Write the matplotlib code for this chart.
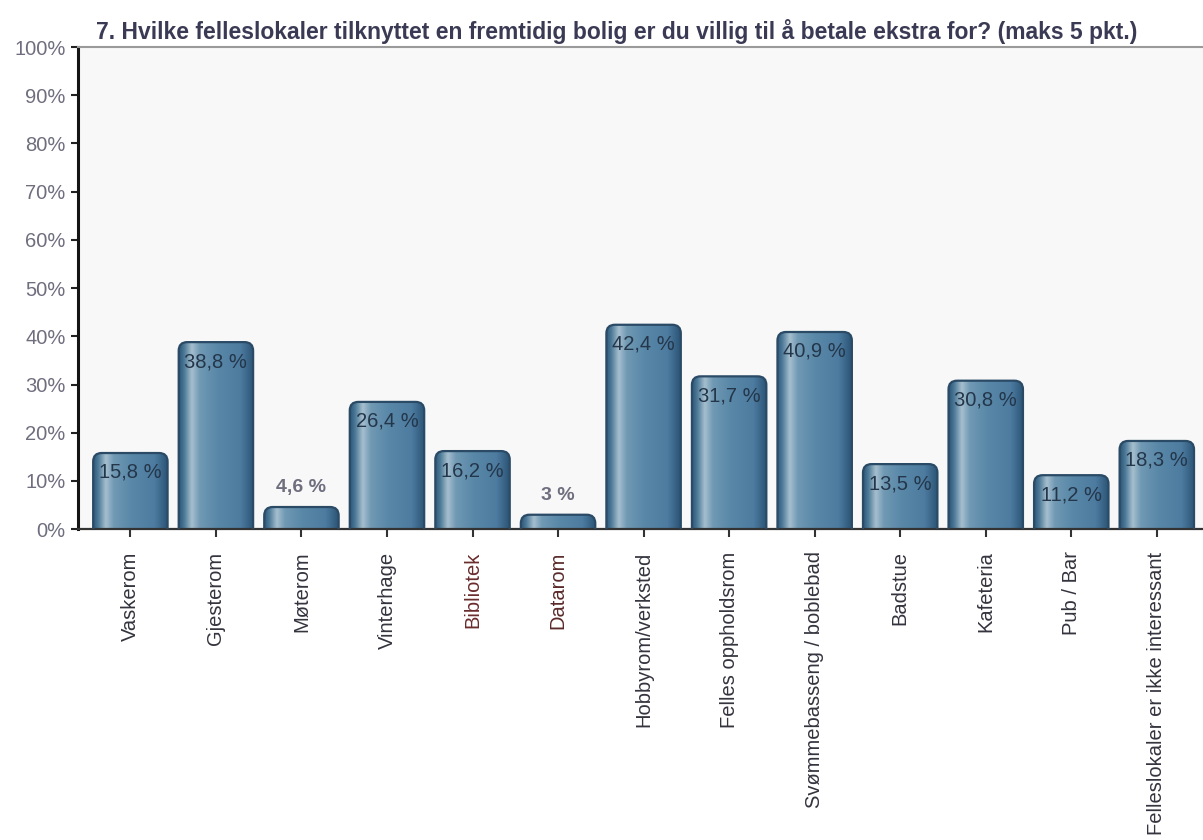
import numpy as np
import matplotlib
matplotlib.use("Agg")
import matplotlib.pyplot as plt
from matplotlib.colors import LinearSegmentedColormap
from matplotlib.patches import FancyBboxPatch
from matplotlib.ticker import PercentFormatter

plt.rcParams["font.family"] = ["Liberation Sans", "DejaVu Sans"]

title = ("7. Hvilke felleslokaler tilknyttet en fremtidig bolig er du villig "
         "til å betale ekstra for? (maks 5 pkt.)")
categories = ["Vaskerom", "Gjesterom", "Møterom", "Vinterhage", "Bibliotek",
              "Datarom", "Hobbyrom/verksted", "Felles oppholdsrom",
              "Svømmebasseng / boblebad", "Badstue", "Kafeteria", "Pub / Bar",
              "Felleslokaler er ikke interessant"]
values = [15.8, 38.8, 4.6, 26.4, 16.2, 3.0, 42.4, 31.7, 40.9, 13.5, 30.8, 11.2, 18.3]
value_labels = ["15,8 %", "38,8 %", "4,6 %", "26,4 %", "16,2 %", "3 %", "42,4 %",
                "31,7 %", "40,9 %", "13,5 %", "30,8 %", "11,2 %", "18,3 %"]
label_colors = ["#34343f"] * 4 + ["#6a2c2c", "#5a2a2a"] + ["#34343f"] * 7

fig = plt.figure(figsize=(12.03, 8.4), dpi=100)
ax = fig.add_axes([0.065, 0.370, 0.935, 0.574])
ax.set_facecolor("#f7f8f7")

x = np.arange(len(categories))
bars = ax.bar(x, values, width=0.87, color="none", edgecolor="none")

# cylinder-like shading across each bar
shade = LinearSegmentedColormap.from_list("shade", [
    (0.00, "#2d5677"), (0.07, "#4d7a98"), (0.17, "#a6bfce"), (0.28, "#7099b4"),
    (0.50, "#5a88a8"), (0.82, "#4d7ca0"), (1.00, "#2b5475")])
grad = np.linspace(0, 1, 256).reshape(1, -1)

for rect in bars:
    bx, bw, bh = rect.get_x(), rect.get_width(), rect.get_height()
    # start a little below the axis so only the top corners show rounded
    outline = FancyBboxPatch((bx, rect.get_y() - 3), bw, bh + 3,
                             boxstyle="round,pad=0,rounding_size=0.1",
                             mutation_aspect=17.8, facecolor="none",
                             edgecolor="#2a4a66", linewidth=1.6, zorder=3)
    ax.add_patch(outline)
    im = ax.imshow(grad, cmap=shade, aspect="auto",
                   extent=(bx, bx + bw, rect.get_y() - 3, bh),
                   zorder=2, interpolation="bicubic")
    im.set_clip_path(outline)

for xi, v, lab in zip(x, values, value_labels):
    if v < 10:
        ax.annotate(lab, (xi, v), xytext=(0, 14), textcoords="offset points",
                    ha="center", va="center", fontsize=14, color="#6e6e7e",
                    fontweight="bold", zorder=4)
    else:
        ax.annotate(lab, (xi, v), xytext=(0, -14), textcoords="offset points",
                    ha="center", va="center", fontsize=14.5, color="#24364a",
                    zorder=4)

ax.set_xlim(-0.61, 12.54)
ax.set_ylim(0, 100)
ax.yaxis.set_major_formatter(PercentFormatter(decimals=0))
ax.set_yticks(np.arange(0, 101, 10))
ax.tick_params(axis="y", labelsize=14.5, labelcolor="#6e6e7e", length=5,
               width=1.5, color="#222222", pad=4)
ax.set_xticks(x)
ax.set_xticklabels(categories, rotation=90, fontsize=14.5)
for tl, c in zip(ax.get_xticklabels(), label_colors):
    tl.set_color(c)
ax.tick_params(axis="x", length=6, width=1.5, color="#333333", pad=10)

ax.spines["left"].set_linewidth(2.2)
ax.spines["left"].set_color("#151515")
ax.spines["bottom"].set_linewidth(1.6)
ax.spines["bottom"].set_color("#333333")
ax.spines["top"].set_color("#9a9a9a")
ax.spines["top"].set_linewidth(1.5)
ax.spines["right"].set_visible(False)

fig.text(0.513, 0.963, title, ha="center", va="center", fontsize=16.5,
         fontweight="bold", color="#3a3a55")

fig.savefig("out.png", dpi=100, facecolor="white")
